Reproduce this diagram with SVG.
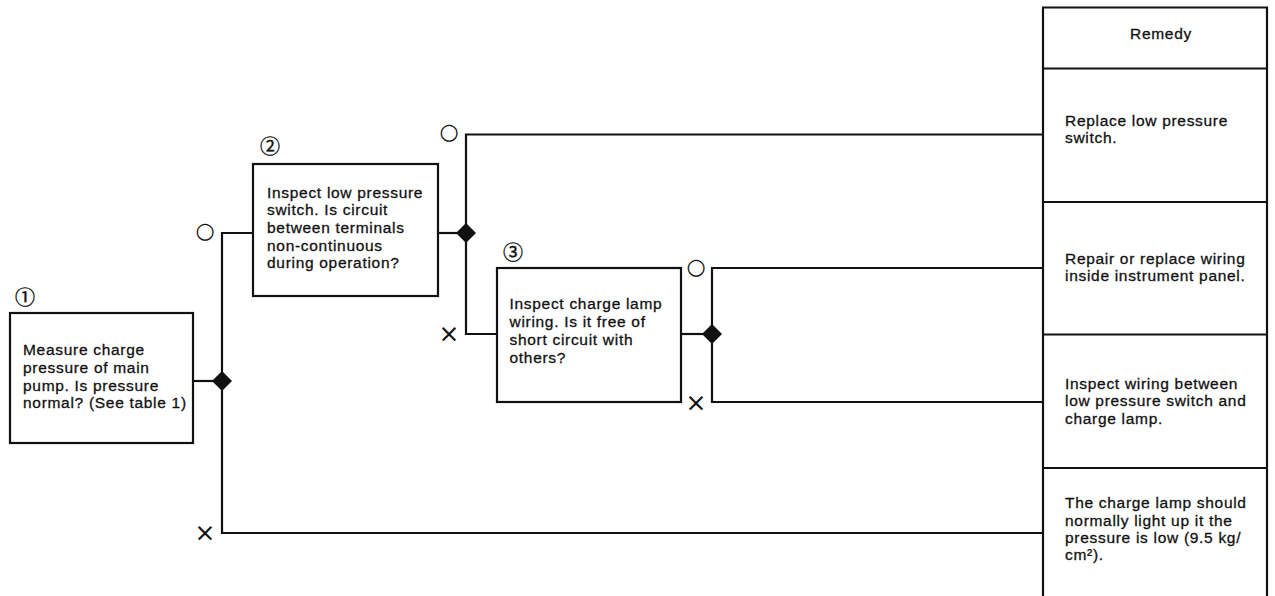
<svg xmlns="http://www.w3.org/2000/svg" width="1275" height="596" viewBox="0 0 1275 596">
<style>
.bg{fill:#fff}
.box{fill:#fff;stroke:#111;stroke-width:2.2}
.ln{fill:none;stroke:#111;stroke-width:2.2}
.dia{fill:#111;stroke:none}
.t{font-family:"Liberation Sans",Arial,sans-serif;font-size:15.5px;letter-spacing:0.7px;fill:#111;stroke:#111;stroke-width:0.3px}
.num{font-family:"Noto Sans CJK JP","DejaVu Sans",sans-serif;font-size:20px;fill:#111;stroke:#111;stroke-width:0.4px;text-anchor:middle;dominant-baseline:central}
.mk{font-family:"DejaVu Sans",sans-serif;fill:#111;text-anchor:middle;dominant-baseline:central}
.o{font-size:22px}
.x{font-size:25px}
</style>
<rect class="bg" x="0" y="0" width="1275" height="596"/>

<g id="connectors">
<polyline class="ln" points="193,381 222,381"/>
<polyline class="ln" points="253,233 222,233 222,533 1043,533"/>
<polyline class="ln" points="438,233 466,233"/>
<polyline class="ln" points="1043,134.5 466,134.5 466,334 497,334"/>
<polyline class="ln" points="681,334 712,334"/>
<polyline class="ln" points="1043,268 712,268 712,402 1043,402"/>
<polygon class="dia" points="222,371 232,381 222,391 212,381"/>
<polygon class="dia" points="466,223 476,233 466,243 456,233"/>
<polygon class="dia" points="712,324 722,334 712,344 702,334"/>
<text class="mk o" x="205" y="230">○</text>
<text class="mk x" x="205" y="532">×</text>
<text class="mk o" x="449" y="131">○</text>
<text class="mk x" x="449" y="333">×</text>
<text class="mk o" x="696" y="266">○</text>
<text class="mk x" x="696" y="402">×</text>
</g>

<g id="node1">
<text class="num" x="25" y="296">①</text>
<rect class="box" x="10" y="313" width="183" height="130"/>
<text class="t" x="23" y="355">Measure charge</text>
<text class="t" x="23" y="372.8">pressure of main</text>
<text class="t" x="23" y="390.6">pump. Is pressure</text>
<text class="t" x="23" y="408.3">normal? (See table 1)</text>
</g>

<g id="node2">
<text class="num" x="270" y="145">②</text>
<rect class="box" x="253" y="164" width="185" height="132"/>
<text class="t" x="267" y="197.7">Inspect low pressure</text>
<text class="t" x="267" y="215.3">switch. Is circuit</text>
<text class="t" x="267" y="233">between terminals</text>
<text class="t" x="267" y="250.6">non-continuous</text>
<text class="t" x="267" y="268.3">during operation?</text>
</g>

<g id="node3">
<text class="num" x="513" y="251">③</text>
<rect class="box" x="497" y="268" width="184" height="134"/>
<text class="t" x="509.5" y="309">Inspect charge lamp</text>
<text class="t" x="509.5" y="327">wiring. Is it free of</text>
<text class="t" x="509.5" y="345">short circuit with</text>
<text class="t" x="509.5" y="363">others?</text>
</g>

<g id="remedy-table">
<polyline class="ln" points="1043,597 1043,7.5 1267,7.5 1267,597"/>
<line class="ln" x1="1043" y1="68.5" x2="1267" y2="68.5"/>
<line class="ln" x1="1043" y1="202" x2="1267" y2="202"/>
<line class="ln" x1="1043" y1="334.5" x2="1267" y2="334.5"/>
<line class="ln" x1="1043" y1="468" x2="1267" y2="468"/>
<text class="t" x="1161" y="39" text-anchor="middle">Remedy</text>
</g>

<g id="remedy1">
<text class="t" x="1065" y="126">Replace low pressure</text>
<text class="t" x="1065" y="143">switch.</text>
</g>
<g id="remedy2">
<text class="t" x="1065" y="263.5">Repair or replace wiring</text>
<text class="t" x="1065" y="281">inside instrument panel.</text>
</g>
<g id="remedy3">
<text class="t" x="1065" y="388.5">Inspect wiring between</text>
<text class="t" x="1065" y="406">low pressure switch and</text>
<text class="t" x="1065" y="423.5">charge lamp.</text>
</g>
<g id="remedy4">
<text class="t" x="1065" y="508.3">The charge lamp should</text>
<text class="t" x="1065" y="525.6">normally light up it the</text>
<text class="t" x="1065" y="542.9">pressure is low (9.5 kg/</text>
<text class="t" x="1065" y="560.2">cm²).</text>
</g>
</svg>
